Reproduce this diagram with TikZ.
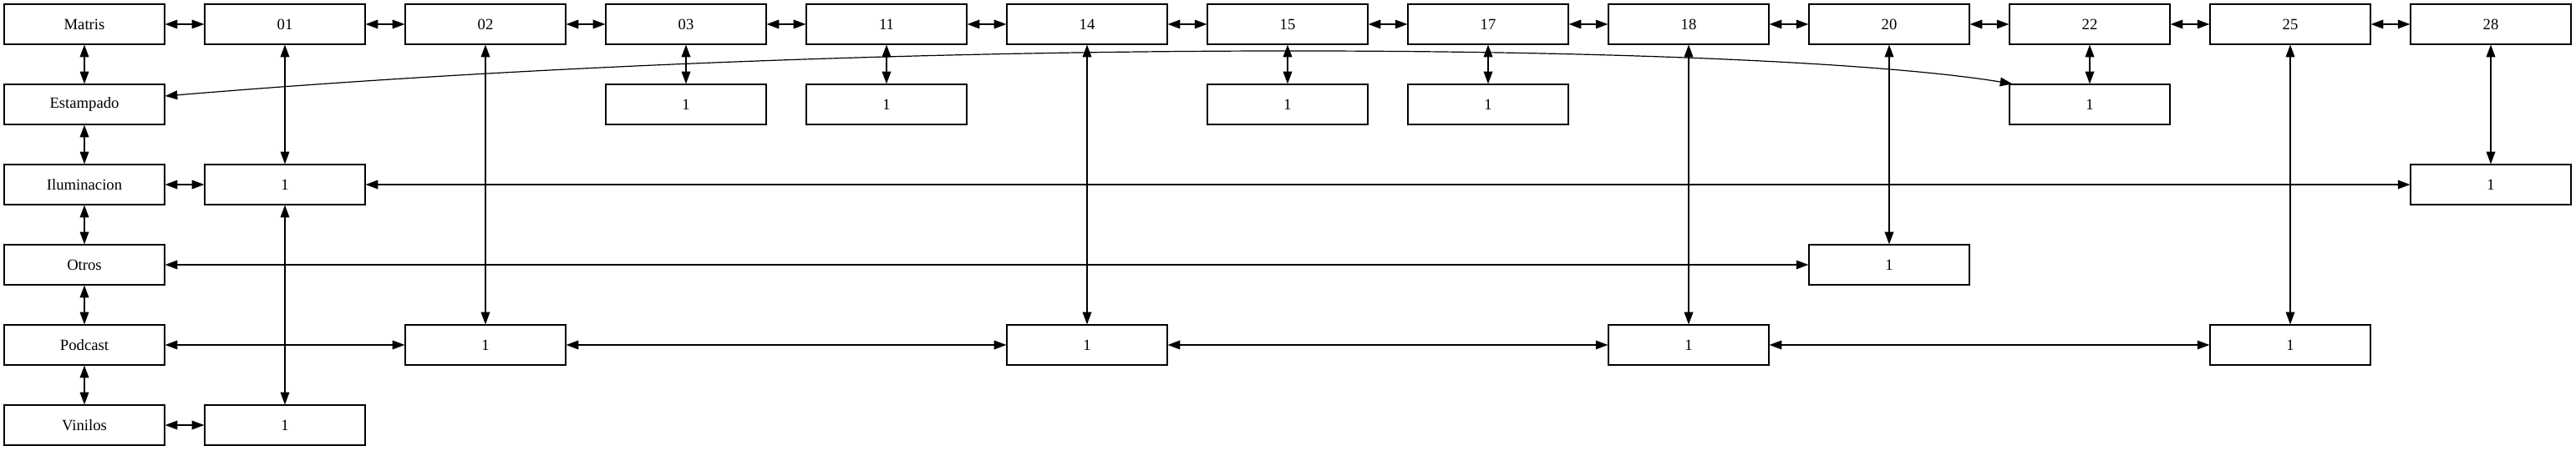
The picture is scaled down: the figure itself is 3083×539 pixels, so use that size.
\documentclass[tikz,border=0pt]{standalone}
\usepackage{fontspec}
\setmainfont{Liberation Serif}
\usetikzlibrary{arrows.meta}
\begin{document}
\begin{tikzpicture}[x=0.75pt,y=-0.75pt,
  box/.style={draw, line width=0.9pt, minimum width=144pt, minimum height=36pt, inner sep=0pt, font=\fontsize{14}{16}\selectfont},
  link/.style={line width=0.9pt, {Triangle[length=11pt,width=8pt]}-{Triangle[length=11pt,width=8pt]}}]
\useasboundingbox (0,0) rectangle (3083,539);
% top row
\foreach \l [count=\i from 0] in {Matris,01,02,03,11,14,15,17,18,20,22,25,28}
  \node[box] (t\i) at ({101+240*\i},29) {\l};
% left column
\node[box] (L1) at (101,125) {Estampado};
\node[box] (L2) at (101,221) {Iluminacion};
\node[box] (L3) at (101,317) {Otros};
\node[box] (L4) at (101,413) {Podcast};
\node[box] (L5) at (101,509) {Vinilos};
% row 1
\node[box] (n13) at (821,125) {1};
\node[box] (n14) at (1061,125) {1};
\node[box] (n16) at (1541,125) {1};
\node[box] (n17) at (1781,125) {1};
\node[box] (n110) at (2501,125) {1};
% row 2
\node[box] (n21) at (341,221) {1};
\node[box] (n212) at (2981,221) {1};
% row 3
\node[box] (n39) at (2261,317) {1};
% row 4
\node[box] (n42) at (581,413) {1};
\node[box] (n45) at (1301,413) {1};
\node[box] (n48) at (2021,413) {1};
\node[box] (n411) at (2741,413) {1};
% row 5
\node[box] (n51) at (341,509) {1};
% top chain
\foreach \i [evaluate=\i as \j using int(\i+1)] in {0,...,11}
  \draw[link] (t\i) -- (t\j);
% left chain
\draw[link] (t0) -- (L1);
\draw[link] (L1) -- (L2);
\draw[link] (L2) -- (L3);
\draw[link] (L3) -- (L4);
\draw[link] (L4) -- (L5);
% verticals
\draw[link] (t3) -- (n13);
\draw[link] (t4) -- (n14);
\draw[link] (t6) -- (n16);
\draw[link] (t7) -- (n17);
\draw[link] (t10) -- (n110);
\draw[link] (t1) -- (n21);
\draw[link] (n21) -- (n51);
\draw[link] (t12) -- (n212);
\draw[link] (t9) -- (n39);
\draw[link] (t2) -- (n42);
\draw[link] (t5) -- (n45);
\draw[link] (t8) -- (n48);
\draw[link] (t11) -- (n411);
% horizontals
\draw[link] (L2) -- (n21);
\draw[link] (n21) -- (n212);
\draw[link] (L3) -- (n39);
\draw[link] (L4) -- (n42);
\draw[link] (n42) -- (n45);
\draw[link] (n45) -- (n48);
\draw[link] (n48) -- (n411);
\draw[link] (L5) -- (n51);
% curve
\draw[link] ([yshift=7.5pt]L1.east) .. controls (1097,40) and (2113,52) .. ([xshift=3pt]n110.north west);
\end{tikzpicture}
\end{document}
